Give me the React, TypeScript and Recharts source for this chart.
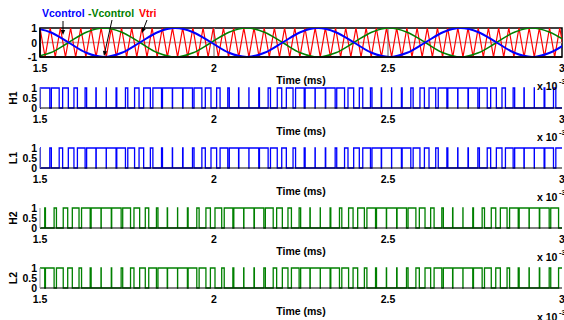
import React from 'react';
import { LineChart, Line, XAxis, YAxis, ReferenceLine, ReferenceArea } from 'recharts';

// ---------- data ----------
const timeTicks = [1.5, 2, 2.5, 3];
const timeTickLabels = ['1.5', '2', '2.5', '3'];
const topYTicks = [-1, 0, 1];
const topYTickLabels = ['-1', '0', '1'];
const pwmYTicks = [0, 0.5, 1];
const pwmYTickLabels = ['0', '0.5', '1'];

const vcTime = [1.479, 1.530, 1.582, 1.633, 1.684, 1.735, 1.787, 1.838, 1.889, 1.940, 1.992, 2.043, 2.094, 2.145, 2.197, 2.248, 2.299, 2.350, 2.402, 2.453, 2.504, 2.555, 2.607, 2.658, 2.709, 2.760, 2.812, 2.863, 2.914, 2.965, 3.017];
const vcontrol = [1, 0.71, 0, -0.71, -1, -0.71, 0, 0.71, 1, 0.71, 0, -0.71, -1, -0.71, 0, 0.71, 1, 0.71, 0, -0.71, -1, -0.71, 0, 0.71, 1, 0.71, 0, -0.71, -1, -0.71, 0];
const negVcontrol = [-1, -0.71, 0, 0.71, 1, 0.71, 0, -0.71, -1, -0.71, 0, 0.71, 1, 0.71, 0, -0.71, -1, -0.71, 0, 0.71, 1, 0.71, 0, -0.71, -1, -0.71, 0, 0.71, 1, 0.71, 0];

const vtriTime = [1.5000, 1.5146, 1.5293, 1.5439, 1.5586, 1.5732, 1.5879, 1.6025, 1.6171, 1.6318, 1.6464, 1.6611, 1.6757, 1.6904, 1.7050, 1.7196, 1.7343, 1.7489, 1.7636, 1.7782, 1.7929, 1.8075, 1.8221, 1.8368, 1.8514, 1.8661, 1.8807, 1.8954, 1.9100, 1.9246, 1.9393, 1.9539, 1.9686, 1.9832, 1.9979, 2.0125, 2.0271, 2.0418, 2.0564, 2.0711, 2.0857, 2.1004, 2.1150, 2.1296, 2.1443, 2.1589, 2.1736, 2.1882, 2.2029, 2.2175, 2.2321, 2.2468, 2.2614, 2.2761, 2.2907, 2.3054, 2.3200, 2.3346, 2.3493, 2.3639, 2.3786, 2.3932, 2.4079, 2.4225, 2.4371, 2.4518, 2.4664, 2.4811, 2.4957, 2.5104, 2.5250, 2.5396, 2.5543, 2.5689, 2.5836, 2.5982, 2.6129, 2.6275, 2.6421, 2.6568, 2.6714, 2.6861, 2.7007, 2.7154, 2.7300, 2.7446, 2.7593, 2.7739, 2.7886, 2.8032, 2.8179, 2.8325, 2.8471, 2.8618, 2.8764, 2.8911, 2.9057, 2.9204, 2.9350, 2.9496, 2.9643, 2.9789, 2.9936, 3.0082];
const vtriValue = [1, -1, 1, -1, 1, -1, 1, -1, 1, -1, 1, -1, 1, -1, 1, -1, 1, -1, 1, -1, 1, -1, 1, -1, 1, -1, 1, -1, 1, -1, 1, -1, 1, -1, 1, -1, 1, -1, 1, -1, 1, -1, 1, -1, 1, -1, 1, -1, 1, -1, 1, -1, 1, -1, 1, -1, 1, -1, 1, -1, 1, -1, 1, -1, 1, -1, 1, -1, 1, -1, 1, -1, 1, -1, 1, -1, 1, -1, 1, -1, 1, -1, 1, -1, 1, -1, 1, -1, 1, -1, 1, -1, 1, -1, 1, -1, 1, -1, 1, -1, 1, -1, 1, -1];

// duty of the high pulse in each carrier period (centred on each carrier valley)
const h1Duty = [0.93, 0.77, 0.56, 0.34, 0.15, 0.03, 0.01, 0.07, 0.23, 0.44, 0.66, 0.85, 0.97, 0.99,
  0.93, 0.77, 0.56, 0.34, 0.15, 0.03, 0.01, 0.07, 0.23, 0.44, 0.66, 0.85, 0.97, 0.99,
  0.93, 0.77, 0.56, 0.34, 0.15, 0.03, 0.01, 0.07, 0.23, 0.44, 0.66, 0.85, 0.97, 0.99,
  0.93, 0.77, 0.56, 0.34, 0.15, 0.03, 0.01, 0.07, 0.23, 0.44];
const h2Duty = [0.07, 0.23, 0.44, 0.66, 0.85, 0.97, 0.99, 0.93, 0.77, 0.56, 0.34, 0.15, 0.03, 0.01,
  0.07, 0.23, 0.44, 0.66, 0.85, 0.97, 0.99, 0.93, 0.77, 0.56, 0.34, 0.15, 0.03, 0.01,
  0.07, 0.23, 0.44, 0.66, 0.85, 0.97, 0.99, 0.93, 0.77, 0.56, 0.34, 0.15, 0.03, 0.01,
  0.07, 0.23, 0.44, 0.66, 0.85, 0.97, 0.99, 0.93, 0.77, 0.56];

// ---------- tables ----------
const vcData = vcTime.map((t, i) => ({ t, v: vcontrol[i] }));
const negVcData = vcTime.map((t, i) => ({ t, v: negVcontrol[i] }));
const vtriData = vtriTime.map((t, i) => ({ t, v: vtriValue[i] }));

function buildPwm(duty: number[], invert: boolean) {
  const centres = vtriTime.filter((_, i) => i % 2 === 1);
  const half = vtriTime[1] - vtriTime[0];
  const lo = invert ? 1 : 0;
  const hi = invert ? 0 : 1;
  const pts: { t: number; v: number }[] = [{ t: 1.5, v: lo }];
  let last = lo;
  centres.forEach((c, k) => {
    const h = duty[k] * half;
    if (c - h < 3) { pts.push({ t: c - h, v: hi }); last = hi; }
    if (c + h < 3) { pts.push({ t: c + h, v: lo }); last = lo; }
  });
  pts.push({ t: 3, v: last });
  return pts;
}
const h1Data = buildPwm(h1Duty, false);
const l1Data = buildPwm(h1Duty, true);
const h2Data = buildPwm(h2Duty, false);
const l2Data = buildPwm(h2Duty, true);

// ---------- styling ----------
const FONT = '"Liberation Sans", Arial, Helvetica, sans-serif';
const FS = 10.5;

const XTick = (props: any) => {
  const { x, y, payload } = props;
  const idx = timeTicks.indexOf(payload.value);
  return (
    <text x={x} y={y + 10.5} textAnchor="middle" dominantBaseline="central" fontSize={FS} fontWeight="bold" fontFamily={FONT} fill="#000">
      {idx >= 0 ? timeTickLabels[idx] : String(payload.value)}
    </text>
  );
};

const makeYTick = (ticks: number[], labels: string[]) => (props: any) => {
  const { x, y, payload } = props;
  const idx = ticks.indexOf(payload.value);
  return (
    <text x={x - 3} y={y} textAnchor="end" dominantBaseline="central" fontSize={FS} fontWeight="bold" fontFamily={FONT} fill="#000">
      {idx >= 0 ? labels[idx] : String(payload.value)}
    </text>
  );
};
const TopYTick = makeYTick(topYTicks, topYTickLabels);
const PwmYTick = makeYTick(pwmYTicks, pwmYTickLabels);

const W = 564;

function PwmChart({ data, color, top }: { data: { t: number; v: number }[]; color: string; top: number }) {
  const plotH = 20;
  return (
    <div style={{ position: 'absolute', left: 0, top: 0 }}>
      <LineChart width={W} height={top + plotH + 20} data={data} margin={{ top, right: 2, bottom: 0, left: 0 }}>
        <XAxis dataKey="t" type="number" domain={[1.5, 3]} ticks={timeTicks} tick={<XTick />} tickLine={false} tickSize={0} tickMargin={0} height={20} axisLine={{ stroke: '#000', strokeWidth: 1.2 }} interval={0} />
        <YAxis type="number" domain={[0, 1]} ticks={pwmYTicks} tick={<PwmYTick />} tickLine={false} tickSize={0} tickMargin={0} width={40} axisLine={{ stroke: '#999', strokeWidth: 1 }} interval={0} />
        <Line data={data} dataKey="v" type="stepAfter" stroke={color} strokeWidth={1.3} dot={false} activeDot={false} isAnimationActive={false} />
      </LineChart>
    </div>
  );
}

function Arrow({ x1, y1, x2, y2 }: { x1: number; y1: number; x2: number; y2: number }) {
  const dx = x2 - x1, dy = y2 - y1;
  const len = Math.sqrt(dx * dx + dy * dy);
  const ux = dx / len, uy = dy / len;
  const hl = 5, hw = 2.2;
  const bx = x2 - ux * hl, by = y2 - uy * hl;
  const p = `${x2},${y2} ${bx - uy * hw},${by + ux * hw} ${bx + uy * hw},${by - ux * hw}`;
  return (
    <g>
      <line x1={x1} y1={y1} x2={bx} y2={by} stroke="#000" strokeWidth={1} />
      <polygon points={p} fill="#000" />
    </g>
  );
}

const bottoms = [57, 108, 168, 228, 288];
const yLabels = [
  { text: 'H1', y: 98 },
  { text: 'L1', y: 158 },
  { text: 'H2', y: 218 },
  { text: 'L2', y: 278 },
];

export default function App() {
  return (
    <div style={{ position: 'absolute', left: 0, top: 0, width: W, height: 320, background: '#fff', overflow: 'hidden' }}>
      {/* top plot */}
      <div style={{ position: 'absolute', left: 0, top: 0 }}>
        <LineChart width={W} height={57 + 20} margin={{ top: 28, right: 2, bottom: 0, left: 0 }}>
          <XAxis dataKey="t" type="number" domain={[1.5, 3]} allowDataOverflow ticks={timeTicks} tick={<XTick />} tickLine={false} tickSize={0} tickMargin={0} height={20} axisLine={{ stroke: '#000', strokeWidth: 1.5 }} interval={0} />
          <YAxis type="number" domain={[-1, 1]} allowDataOverflow ticks={topYTicks} tick={<TopYTick />} tickLine={false} tickSize={0} tickMargin={0} width={40} axisLine={{ stroke: '#000', strokeWidth: 1.5 }} interval={0} />
          <ReferenceLine y={0} stroke="#b9a6a6" strokeWidth={1.5} />
          <ReferenceLine x={2} stroke="#999" strokeWidth={1.5} />
          <ReferenceLine x={2.5} stroke="#999" strokeWidth={1.5} />
          <Line data={vtriData} dataKey="v" type="linear" stroke="#ff0000" strokeWidth={1.2} dot={false} activeDot={false} isAnimationActive={false} />
          <Line data={negVcData} dataKey="v" type="monotone" stroke="#008000" strokeWidth={1.5} dot={false} activeDot={false} isAnimationActive={false} />
          <Line data={vcData} dataKey="v" type="monotone" stroke="#0000ff" strokeWidth={2} dot={false} activeDot={false} isAnimationActive={false} />
          <ReferenceArea x1={1.5} x2={3} y1={-1} y2={1} fill="none" fillOpacity={0} stroke="#000" strokeWidth={1.5} />
        </LineChart>
      </div>

      <PwmChart data={h1Data} color="#0000ff" top={88} />
      <PwmChart data={l1Data} color="#0000ff" top={148} />
      <PwmChart data={h2Data} color="#008000" top={208} />
      <PwmChart data={l2Data} color="#008000" top={268} />

      {/* overlay texts and arrows */}
      <svg width={W} height={320} style={{ position: 'absolute', left: 0, top: 0, pointerEvents: 'none' }}>
        <text x={42} y={13} dominantBaseline="central" fontSize={FS} fontWeight="bold" fontFamily={FONT} fill="#0000ff">Vcontrol</text>
        <text x={88} y={13} dominantBaseline="central" fontSize={FS} fontWeight="bold" fontFamily={FONT} fill="#008000">-Vcontrol</text>
        <text x={139} y={13} dominantBaseline="central" fontSize={FS} fontWeight="bold" fontFamily={FONT} fill="#ff0000">Vtri</text>
        <Arrow x1={63} y1={21} x2={63} y2={35} />
        <Arrow x1={112} y1={20} x2={104} y2={56} />
        <Arrow x1={147} y1={20} x2={142} y2={33} />
        {bottoms.map((b, i) => (
          <g key={i}>
            <text x={301} y={b + 23} textAnchor="middle" dominantBaseline="central" fontSize={FS} fontWeight="bold" fontFamily={FONT} fill="#000">Time (ms)</text>
            <text x={537} y={b + 29} dominantBaseline="central" fontSize={FS} fontWeight="bold" fontFamily={FONT} fill="#000">x 10</text>
            <text x={559} y={b + 24} dominantBaseline="central" fontSize={7.5} fontWeight="bold" fontFamily={FONT} fill="#000">-3</text>
          </g>
        ))}
        {yLabels.map((l) => (
          <text key={l.text} x={13} y={l.y} textAnchor="middle" dominantBaseline="central" fontSize={FS} fontWeight="bold" fontFamily={FONT} fill="#000" transform={`rotate(-90 13 ${l.y})`}>{l.text}</text>
        ))}
      </svg>
    </div>
  );
}
